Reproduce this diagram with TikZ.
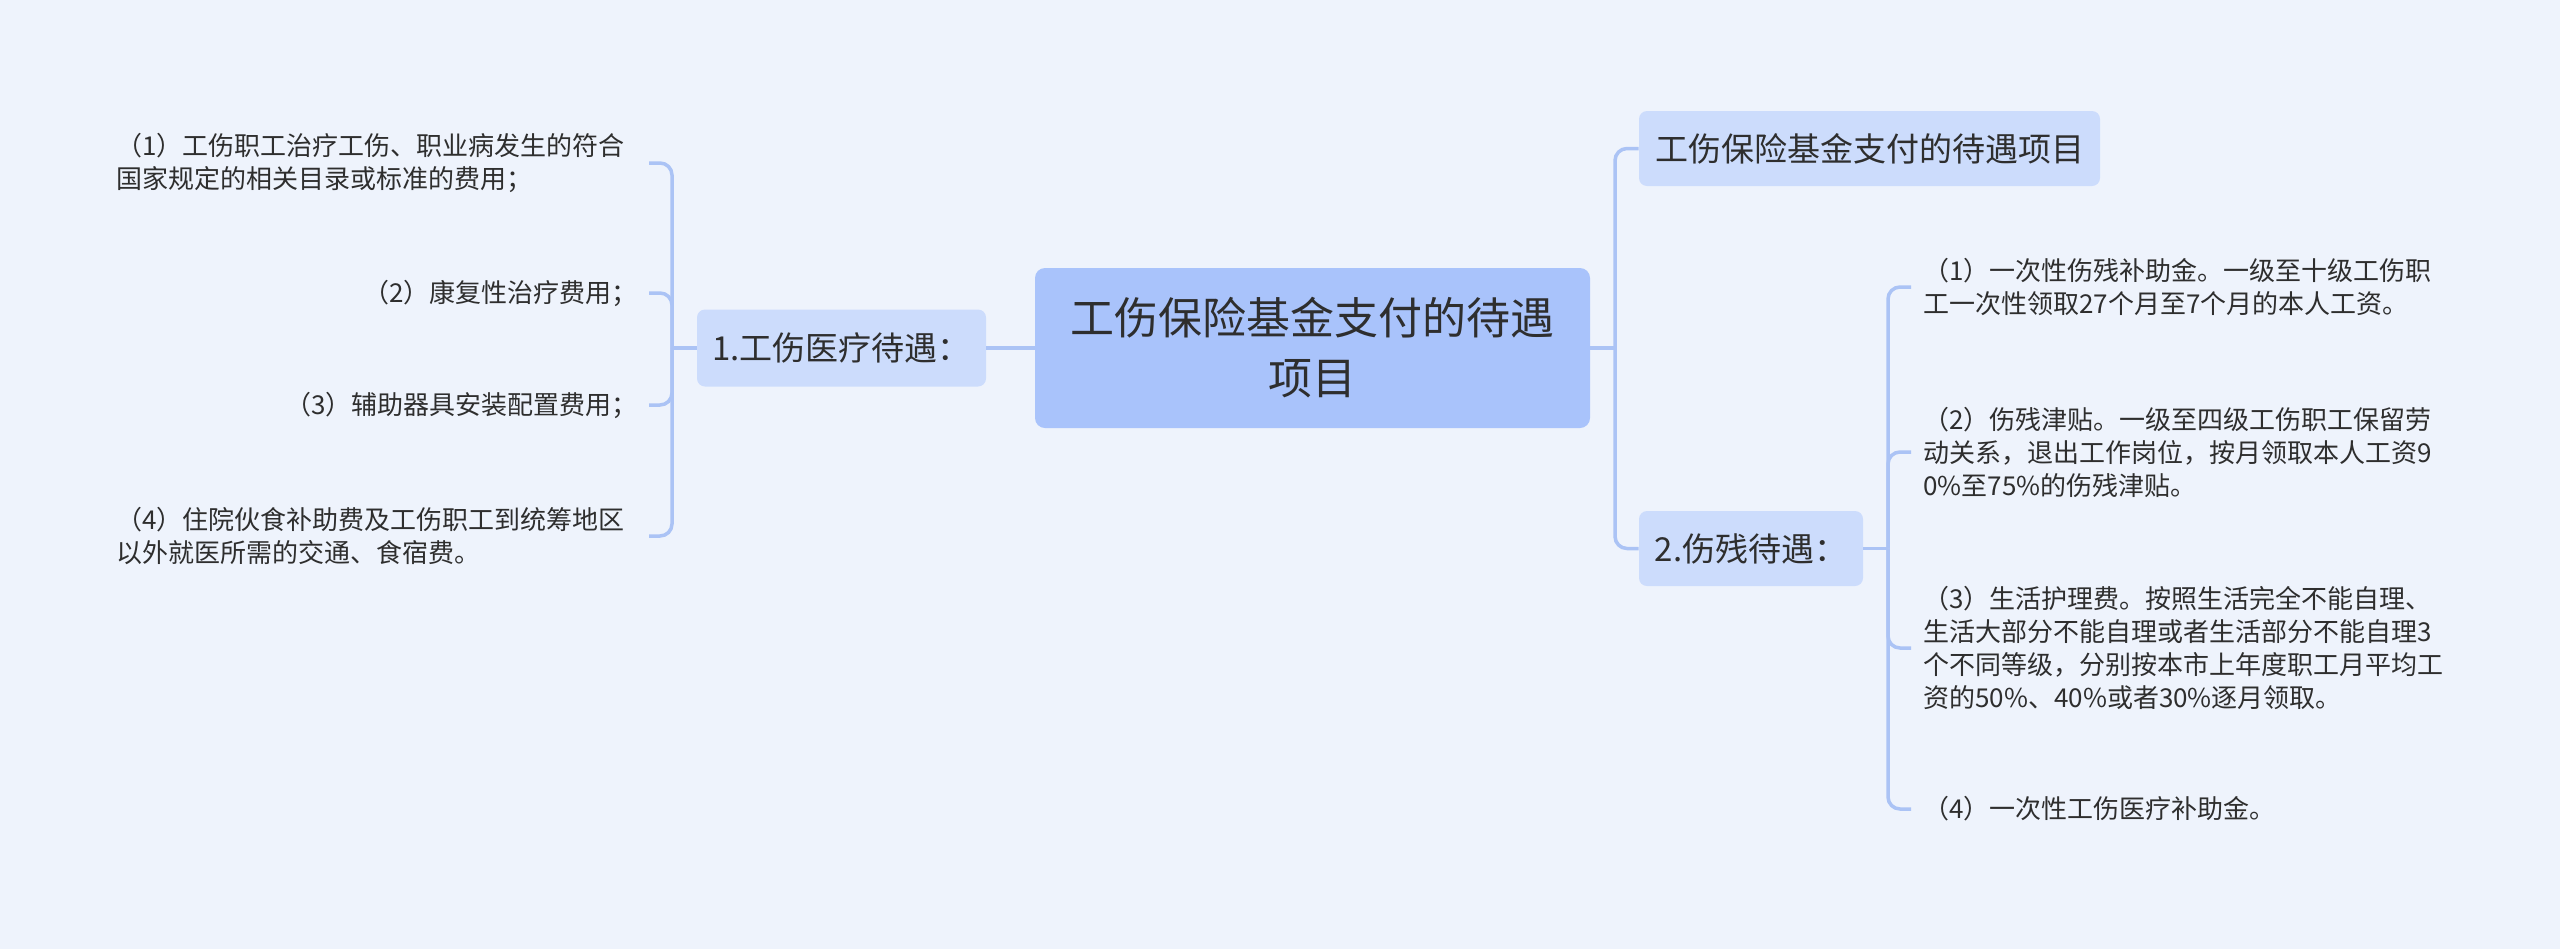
\documentclass[tikz,border=0pt]{standalone}
\usepackage{fontspec}
\setmainfont{Noto Sans CJK SC}
\definecolor{bgc}{HTML}{EEF3FC}
\definecolor{linec}{HTML}{ABC3F5}
\definecolor{lightc}{HTML}{CCDCFC}
\definecolor{mainc}{HTML}{A9C3FB}
\definecolor{textc}{HTML}{2E2E2E}
\begin{document}
\begin{tikzpicture}[x=0.5pt,y=-0.5pt,
  conn/.style={draw=linec, line width=1.75pt, rounded corners=6pt},
  topic/.style={fill=lightc, rounded corners=4pt, text=textc, inner sep=0pt, align=center,
    font=\fontsize{16.5}{20}\selectfont},
  leafL/.style={anchor=east, align=left, inner xsep=12pt, inner ysep=0pt, text=textc,
    font=\fontsize{13}{16.5}\selectfont},
  leafR/.style={anchor=west, align=left, inner xsep=6pt, inner ysep=0pt, text=textc,
    font=\fontsize{13}{16.5}\selectfont}
]
\fill[bgc] (0,0) rectangle (2560,949);
\useasboundingbox (0,0) rectangle (2560,949);

% central topic
\node[fill=mainc, rounded corners=5pt, minimum width=277.5pt, minimum height=80pt,
  inner sep=0pt, align=center, text=textc, font=\fontsize{22}{30}\selectfont]
  (root) at (1312.5,348) {工伤保险基金支付的待遇\\项目};

% main branches
\node[topic, minimum width=144.5pt, minimum height=38.5pt] (n1) at (841.5,348) {1.工伤医疗待遇：};
\node[topic, minimum width=230.5pt, minimum height=37.5pt] (t1) at (1869.5,148.5) {工伤保险基金支付的待遇项目};
\node[topic, minimum width=112pt, minimum height=37.5pt] (n2) at (1751,548.5) {2.伤残待遇：};

% hubs
\coordinate (hL) at (672,348);
\coordinate (hR) at (1615,348);
\coordinate (h2) at (1888,548.5);

% left leaves
\node[leafL] (l1) at (649,163) {（1）工伤职工治疗工伤、职业病发生的符合\\国家规定的相关目录或标准的费用；};
\node[leafL] (l2) at (649,293) {（2）康复性治疗费用；\hspace{-0.5em}};
\node[leafL] (l3) at (649,405) {（3）辅助器具安装配置费用；\hspace{-0.5em}};
\node[leafL] (l4) at (649,536) {（4）住院伙食补助费及工伤职工到统筹地区\\以外就医所需的交通、食宿费。};

% right leaves
\node[leafR] (r1) at (1911,287) {（1）一次性伤残补助金。一级至十级工伤职\\工一次性领取27个月至7个月的本人工资。};
\node[leafR] (r2) at (1911,452) {（2）伤残津贴。一级至四级工伤职工保留劳\\动关系，退出工作岗位，按月领取本人工资9\\0\%至75\%的伤残津贴。};
\node[leafR] (r3) at (1911,648) {（3）生活护理费。按照生活完全不能自理、\\生活大部分不能自理或者生活部分不能自理3\\个不同等级，分别按本市上年度职工月平均工\\资的50\%、40\%或者30\%逐月领取。};
\node[leafR] (r4) at (1911,809) {（4）一次性工伤医疗补助金。};

% connectors
\draw[conn] (root.west) -- (n1.east);
\draw[conn] (n1.west) -- (hL);
\draw[conn] (hL) |- (l1.east);
\draw[conn] (hL) |- (l2.east);
\draw[conn] (hL) |- (l3.east);
\draw[conn] (hL) |- (l4.east);

\draw[conn] (root.east) -- (hR);
\draw[conn] (hR) |- (t1.west);
\draw[conn] (hR) |- (n2.west);

\draw[conn] (n2.east) -- (h2);
\draw[conn] (h2) |- (r1.west);
\draw[conn] (h2) |- (r2.west);
\draw[conn] (h2) |- (r3.west);
\draw[conn] (h2) |- (r4.west);
\end{tikzpicture}
\end{document}
